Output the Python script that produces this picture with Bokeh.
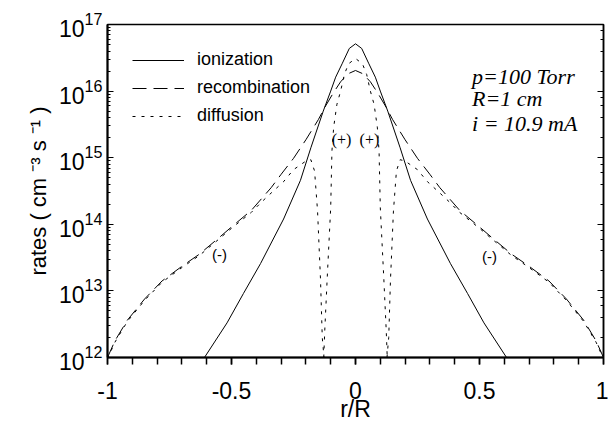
from bokeh.plotting import figure
from bokeh.models import (LogAxis, LogTicker, SingleIntervalTicker, Legend, LegendItem,
                          Label, Range1d, CustomJSTickFormatter)
from bokeh.embed import file_html
from bokeh.resources import INLINE

# ---------------- data ----------------
r_ion = [-0.609, -0.518, -0.452, -0.383, -0.29, -0.222, -0.18, -0.13, -0.1, -0.08, -0.054, -0.025,
         0.0, 0.025, 0.054, 0.08, 0.1, 0.13, 0.18, 0.222, 0.29, 0.383, 0.452, 0.518, 0.609]
ionization = [1.0e12, 3.31e12, 9.12e12, 2.57e13, 1.20e14, 4.57e14, 1.41e15, 5.01e15, 1.0e16, 1.62e16,
              2.57e16, 4.37e16, 5.13e16, 4.37e16, 2.57e16, 1.62e16, 1.0e16, 5.01e15, 1.41e15, 4.57e14,
              1.20e14, 2.57e13, 9.12e12, 3.31e12, 1.0e12]

r_rec = [-1.0, -0.97, -0.92, -0.85, -0.78, -0.7, -0.63, -0.55, -0.5, -0.42, -0.34, -0.3, -0.25, -0.2,
         -0.15, -0.12, -0.09, -0.06, -0.03, 0.0, 0.03, 0.06, 0.09, 0.12, 0.15, 0.2, 0.25, 0.3, 0.34,
         0.42, 0.5, 0.55, 0.63, 0.7, 0.78, 0.85, 0.92, 0.97, 1.0]
recombination = [1.0e12, 1.78e12, 3.63e12, 7.59e12, 1.41e13, 2.34e13, 3.55e13, 6.31e13, 9.12e13, 1.62e14,
                 3.55e14, 5.62e14, 9.77e14, 1.86e15, 3.72e15, 6.03e15, 9.33e15, 1.38e16, 1.82e16, 2.04e16,
                 1.82e16, 1.38e16, 9.33e15, 6.03e15, 3.72e15, 1.86e15, 9.77e14, 5.62e14, 3.55e14, 1.62e14,
                 9.12e13, 6.31e13, 3.55e13, 2.34e13, 1.41e13, 7.59e12, 3.63e12, 1.78e12, 1.0e12]

# diffusion: positive (+) core and |negative| (-) wings
r_diff_pos = [-0.128, -0.124, -0.114, -0.1, -0.095, -0.088, -0.075, -0.06, -0.045, -0.028, 0.0,
              0.028, 0.045, 0.06, 0.075, 0.088, 0.095, 0.1, 0.114, 0.124, 0.128]
diff_pos = [1.0e12, 2.51e12, 1.58e13, 1.78e14, 1.26e15, 2.88e15, 6.31e15, 1.0e16, 1.78e16, 2.57e16, 3.09e16,
            2.57e16, 1.78e16, 1.0e16, 6.31e15, 2.88e15, 1.26e15, 1.78e14, 1.58e13, 2.51e12, 1.0e12]

r_diff_neg_left = [-1.0, -0.97, -0.92, -0.85, -0.78, -0.7, -0.63, -0.55, -0.5, -0.42, -0.38, -0.34, -0.29,
                   -0.25, -0.2, -0.18, -0.165, -0.153, -0.141, -0.134, -0.127]
diff_neg_left = [9.55e11, 1.70e12, 3.47e12, 7.24e12, 1.35e13, 2.24e13, 3.39e13, 6.03e13, 8.71e13, 1.51e14,
                 2.14e14, 2.95e14, 4.37e14, 6.61e14, 8.91e14, 9.33e14, 6.31e14, 1.58e14, 1.45e13, 2.0e12, 1.0e12]

r_diff_neg_right = [0.127, 0.134, 0.141, 0.153, 0.165, 0.18, 0.2, 0.25, 0.29, 0.34, 0.38, 0.42, 0.5, 0.55,
                    0.63, 0.7, 0.78, 0.85, 0.92, 0.97, 1.0]
diff_neg_right = [1.0e12, 2.0e12, 1.45e13, 1.58e14, 6.31e14, 9.33e14, 8.91e14, 6.61e14, 4.37e14, 2.95e14,
                  2.14e14, 1.51e14, 8.71e13, 6.03e13, 3.39e13, 2.24e13, 1.35e13, 7.24e12, 3.47e12, 1.70e12, 9.55e11]

series_labels = ["ionization", "recombination", "diffusion"]

# ---------------- figure ----------------
SANS = "Liberation Sans"
SERIF = "Liberation Serif"
INK = "black"

p = figure(width=608, height=424, x_range=Range1d(-1, 1), y_range=Range1d(1e12, 1e17),
           y_axis_type="log", output_backend="svg", toolbar_location=None,
           min_border_left=107, min_border_right=5, min_border_top=24, min_border_bottom=67)
p.grid.visible = False
p.outline_line_color = INK
p.outline_line_width = 1.5
p.background_fill_color = "white"
p.border_fill_color = "white"

r1 = p.line(r_ion, ionization, line_color=INK, line_width=1)
r2 = p.line(r_rec, recombination, line_color=INK, line_width=1, line_dash="14 7")
r3 = p.line(r_diff_pos, diff_pos, line_color=INK, line_width=1, line_dash="3 6")
r4 = p.line(r_diff_neg_left, diff_neg_left, line_color=INK, line_width=1, line_dash="3 6")
r5 = p.line(r_diff_neg_right, diff_neg_right, line_color=INK, line_width=1, line_dash="3 6")

# x axis
xa = p.xaxis[0]
xa.ticker = SingleIntervalTicker(interval=0.5, num_minor_ticks=5)
xa.formatter = CustomJSTickFormatter(code="return String(Math.round(tick*10)/10)")
xa.major_tick_in = 0
xa.major_tick_out = 7
xa.minor_tick_in = 0
xa.minor_tick_out = 7
xa.major_tick_line_width = 1.5
xa.minor_tick_line_width = 1.5
xa.axis_line_width = 2
xa.axis_line_color = INK
xa.major_tick_line_color = INK
xa.minor_tick_line_color = INK
xa.major_label_text_font = SANS
xa.major_label_text_font_size = "23px"
xa.major_label_text_color = INK
xa.major_label_standoff = 17
xa.axis_label = "r/R"
xa.axis_label_text_font = SANS
xa.axis_label_text_font_size = "23px"
xa.axis_label_text_font_style = "normal"
xa.axis_label_text_color = INK
xa.axis_label_standoff = -6

# y axis
ya = p.yaxis[0]
ya.major_tick_in = 6
ya.major_tick_out = 0
ya.minor_tick_in = 3
ya.minor_tick_out = 0
ya.axis_line_width = 2
ya.axis_line_color = INK
ya.major_tick_line_color = INK
ya.minor_tick_line_color = INK
ya.major_label_text_font = SANS
ya.major_label_text_font_size = "23px"
ya.major_label_text_color = INK
ya.major_label_standoff = 5
ya.axis_label = "rates ( cm \u207b\u00b3 s \u207b\u00b9 )"
ya.axis_label_text_font = SANS
ya.axis_label_text_font_size = "22px"
ya.axis_label_text_font_style = "normal"
ya.axis_label_text_color = INK
ya.axis_label_standoff = 5

# right axis: ticks only
ra = LogAxis(ticker=LogTicker(), formatter=CustomJSTickFormatter(code="return ''"),
             major_tick_in=6, major_tick_out=0, minor_tick_in=3, minor_tick_out=0,
             axis_line_width=1.5, axis_line_color=INK, major_tick_line_color=INK,
             minor_tick_line_color=INK, major_label_standoff=0)
p.add_layout(ra, "right")

# legend
legend = Legend(items=[LegendItem(label=series_labels[0], renderers=[r1]),
                       LegendItem(label=series_labels[1], renderers=[r2]),
                       LegendItem(label=series_labels[2], renderers=[r3])],
                location="top_left", margin=25, padding=0, spacing=7,
                glyph_width=52, glyph_height=20, label_height=20, label_standoff=13,
                label_text_font=SANS, label_text_font_size="18px", label_text_color=INK,
                border_line_color=None, background_fill_alpha=0)
p.add_layout(legend)

# annotations
for txt, yy in [("p=100 Torr", 1.656e16), ("R=1 cm", 7.74e15), ("i = 10.9 mA", 3.30e15)]:
    p.add_layout(Label(x=0.47, y=yy, text=txt, text_font=SERIF, text_font_style="italic",
                       text_font_size="22px", text_baseline="alphabetic", text_align="left",
                       text_color=INK))

for xx in (-0.056, 0.056):
    p.add_layout(Label(x=xx, y=1.86e15, text="(+)", text_font=SERIF, text_font_size="16px",
                       text_baseline="middle", text_align="center", text_color=INK))

for xx, yy in ((-0.548, 3.55e13), (0.54, 3.31e13)):
    p.add_layout(Label(x=xx, y=yy, text="(-)", text_font=SANS, text_font_size="15px",
                       text_baseline="middle", text_align="center", text_color=INK))

open("out.html", "w").write(file_html(p, INLINE))
